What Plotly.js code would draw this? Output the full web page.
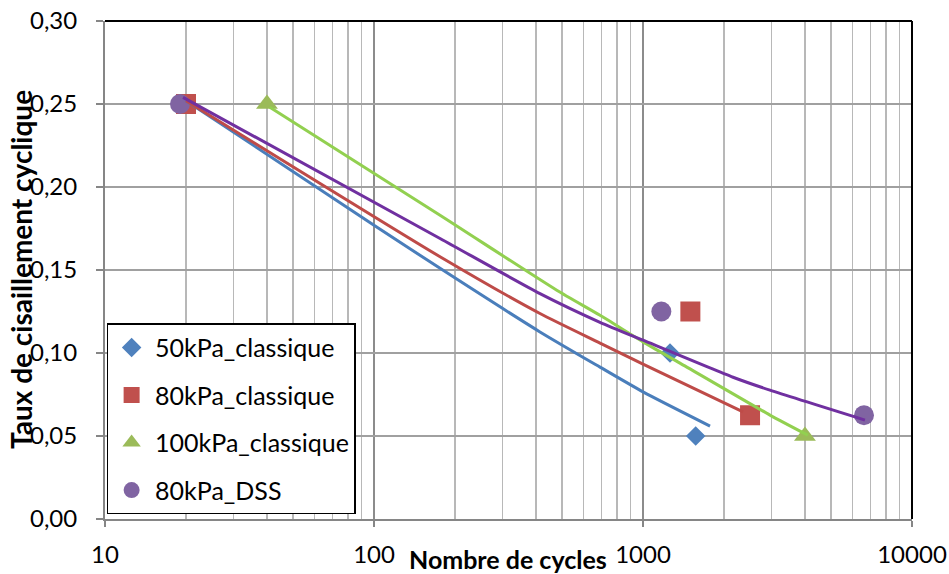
<!DOCTYPE html>
<html>
<head>
<meta charset="utf-8">
<script src="https://cdn.plot.ly/plotly-3.0.1.min.js"></script>
<style>
  html, body { margin: 0; padding: 0; background: #ffffff; }
  #chart { width: 949px; height: 574px; }
</style>
</head>
<body>
<div id="chart"></div>
<script>
// ---- data ----
var seriesNames = ["50kPa_classique", "80kPa_classique", "100kPa_classique", "80kPa_DSS"];

var cycles50 = [20, 1260, 1570];
var ratio50  = [0.25, 0.10, 0.05];

var cycles80 = [20, 1500, 2500];
var ratio80  = [0.25, 0.125, 0.0625];

var cycles100 = [40, 4000];
var ratio100  = [0.25, 0.05];

var cyclesDSS = [19, 1170, 6630];
var ratioDSS  = [0.25, 0.125, 0.0625];

// trend curves as drawn in the reference
var trendX50 = [20, 100, 176, 414, 692, 1000, 1775];
var trendY50 = [0.252, 0.177, 0.151, 0.1127, 0.0915, 0.0766, 0.056];

var trendX80 = [20, 176, 414, 692, 1000, 2355];
var trendY80 = [0.252, 0.158, 0.1238, 0.106, 0.0933, 0.0645];

var trendX100 = [41, 176, 478, 692, 1000, 1372, 2965, 4100];
var trendY100 = [0.248, 0.183, 0.1378, 0.1227, 0.1067, 0.0939, 0.0626, 0.0505];

var trendXDSS = [19.5, 176, 414, 692, 1000, 2161, 2965, 6683];
var trendYDSS = [0.254, 0.169, 0.1358, 0.1185, 0.1077, 0.0854, 0.0776, 0.0596];

var xTickVals = [10, 100, 1000, 10000];
var xTickText = ["10", "100", "1000", "10000"];

var xTitle = "Nombre de cycles";
var yTitle = "Taux de cisaillement cyclique";

// ---- styling ----
var markerColors = ["#4F81BD", "#C0504D", "#9BBB59", "#8064A2"];
var lineColors   = ["#4A7EBB", "#BE4B48", "#92D050", "#7030A0"];
var symbols = ["diamond", "square", "triangle-up", "circle"];
var sizes = [15, 20, 19, 20];
var font = "Lato, 'Open Sans', sans-serif";

var pts = [[cycles50, ratio50], [cycles80, ratio80], [cycles100, ratio100], [cyclesDSS, ratioDSS]];
var trends = [[trendX50, trendY50], [trendX80, trendY80], [trendX100, trendY100], [trendXDSS, trendYDSS]];

var traces = [];
for (var i = 0; i < 4; i++) {
  traces.push({
    x: pts[i][0], y: pts[i][1],
    type: "scatter", mode: "markers",
    name: seriesNames[i],
    legendgroup: "g" + i,
    marker: { symbol: symbols[i], size: sizes[i], color: markerColors[i], line: { width: 0 } },
    hoverinfo: "x+y"
  });
}
for (var j = 0; j < 4; j++) {
  traces.push({
    x: trends[j][0], y: trends[j][1],
    type: "scatter", mode: "lines",
    showlegend: false,
    line: { color: lineColors[j], width: 3, shape: "spline", smoothing: 0.6 },
    hoverinfo: "skip"
  });
}

var layout = {
  width: 949, height: 574,
  margin: { l: 105, r: 37, t: 20.5, b: 55 },
  paper_bgcolor: "#ffffff",
  plot_bgcolor: "#ffffff",
  separators: ", ",
  font: { family: font, size: 24, color: "#000000" },
  showlegend: true,
  legend: {
    x: 0.002, y: 0.393, xanchor: "left", yanchor: "top",
    bgcolor: "#ffffff", bordercolor: "#000000", borderwidth: 1.5,
    font: { family: font, size: 25, color: "#000000" },
    traceorder: "grouped", tracegroupgap: 12,
    itemwidth: 37,
    itemclick: false
  },
  xaxis: {
    type: "log", range: [1, 4],
    tickvals: xTickVals, ticktext: xTickText,
    showgrid: true, gridcolor: "#8c8c8c", gridwidth: 1.5,
    minor: { dtick: "D1", showgrid: true, gridcolor: "#b8b8b8", gridwidth: 1.5, ticks: "" },
    showline: true, linecolor: "#868686", linewidth: 2,
    ticks: "outside", ticklen: 6, tickcolor: "#868686", tickwidth: 1.5,
    ticklabelstandoff: 7,
    tickfont: { family: font, size: 24, color: "#000000" },
    zeroline: false, fixedrange: true
  },
  yaxis: {
    range: [0, 0.30], dtick: 0.05, tick0: 0, tickformat: ".2f",
    showgrid: true, gridcolor: "#a0a0a0", gridwidth: 1.5,
    showline: true, linecolor: "#868686", linewidth: 2,
    ticks: "outside", ticklen: 7, tickcolor: "#868686", tickwidth: 1.5,
    ticklabelstandoff: 14,
    tickfont: { family: font, size: 24, color: "#000000" },
    zeroline: false, fixedrange: true
  },
  shapes: [
    { type: "line", xref: "paper", yref: "paper", x0: 0, x1: 1, y0: 1, y1: 1, line: { color: "#000000", width: 2 } },
    { type: "line", xref: "paper", yref: "paper", x0: 1, x1: 1, y0: 0, y1: 1, line: { color: "#000000", width: 2 } }
  ],
  annotations: [
    { text: "<b>" + xTitle + "</b>", xref: "paper", yref: "paper", x: 0.4994, y: 0,
      xanchor: "center", yanchor: "middle", yshift: -40, showarrow: false,
      font: { family: font, size: 25, color: "#000000" } },
    { text: "<b>" + yTitle + "</b>", xref: "paper", yref: "paper", x: 0, y: 0.5,
      xanchor: "center", yanchor: "middle", xshift: -84, showarrow: false, textangle: -90,
      font: { family: font, size: 28, color: "#000000" } }
  ]
};

Plotly.newPlot("chart", traces, layout, { displayModeBar: false, staticPlot: true });
</script>
</body>
</html>
